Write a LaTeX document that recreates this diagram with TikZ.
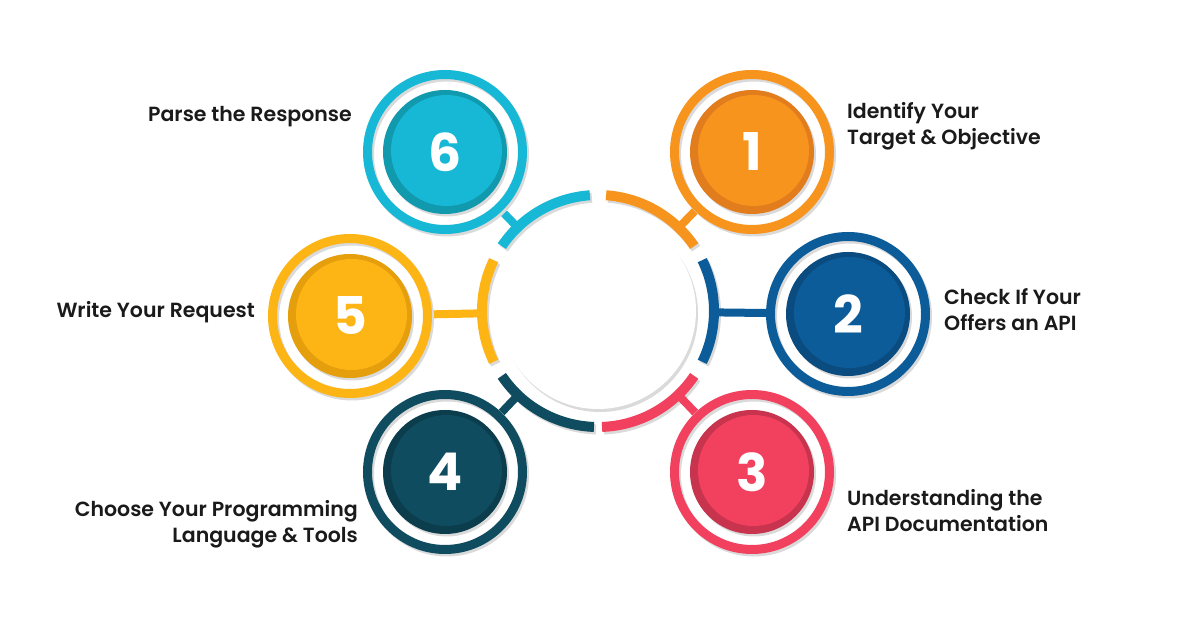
\documentclass[tikz,border=0pt]{standalone}
\usepackage{fontspec}
\setmainfont{Poppins}
\newfontfamily\labfont{Poppins SemiBold}
\newfontfamily\numfont{Poppins Bold}
\usetikzlibrary{calc}
\definecolor{cOne}{HTML}{F7941D}
\definecolor{dOne}{HTML}{E27D1E}
\definecolor{cTwo}{HTML}{0B5C99}
\definecolor{dTwo}{HTML}{0A4C80}
\definecolor{cThree}{HTML}{F2415F}
\definecolor{dThree}{HTML}{C8334E}
\definecolor{cFour}{HTML}{0F4C5F}
\definecolor{dFour}{HTML}{0B3D4D}
\definecolor{cFive}{HTML}{FDB515}
\definecolor{dFive}{HTML}{E59E0C}
\definecolor{cSix}{HTML}{16B8D5}
\definecolor{dSix}{HTML}{1199AE}
\definecolor{shd}{HTML}{DADADA}
\definecolor{txt}{HTML}{1A1A1A}
\tikzset{
  hub/.style={circle, minimum size=164pt, inner sep=0pt},
  arcline/.style={line width=10pt},
  stemline/.style={line width=8pt},
  numtext/.style={text=white, font=\numfont\fontsize{52}{52}\selectfont},
  labtext/.style={text=txt, font=\labfont\fontsize{20.5}{26}\selectfont, inner sep=0pt},
}
\newcommand\stepdisk[3]{% node, ring colour, dark colour
  \draw[line width=9pt, shd] ($(#1.center)+(2,-2.5)$) circle (77.5);
  \fill[shd] ($(#1.center)+(2,-2.5)$) circle (62);
  \draw[line width=9pt, #2] (#1.center) circle (77.5);
  \fill[#3] (#1.center) circle (62);
  \fill[#2] ($(#1.center)+(1.5,1.5)$) circle (55.5);
}
\newcommand\ringarc[3]{% start, end, colour
  \draw[arcline, shd] ($(c)+(2,-2.5)+(#1:116)$) arc[start angle=#1, end angle=#2, radius=116];
  \draw[arcline, #3] ($(c)+(#1:116)$) arc[start angle=#1, end angle=#2, radius=116];
}
\begin{document}
\begin{tikzpicture}[x=1pt,y=1pt]
\useasboundingbox (0,0) rectangle (1200,628);
\fill[white] (0,0) rectangle (1200,628);
\coordinate (c) at (598,317);
% central white disc
\fill[shd] ($(c)+(2,-3)$) circle (98);
\fill[white] (c) circle (98);
% hub nodes
\node[hub] (k1) at (752,476) {};
\node[hub] (k2) at (848,314) {};
\node[hub] (k3) at (752,156) {};
\node[hub] (k4) at (445,156) {};
\node[hub] (k5) at (350,312) {};
\node[hub] (k6) at (445,476) {};
% points on the ring facing each hub
\coordinate (a1) at ($(c)!116pt!(k1.center)$);
\coordinate (a2) at ($(c)!116pt!(k2.center)$);
\coordinate (a3) at ($(c)!116pt!(k3.center)$);
\coordinate (a4) at ($(c)!116pt!(k4.center)$);
\coordinate (a5) at ($(c)!116pt!(k5.center)$);
\coordinate (a6) at ($(c)!116pt!(k6.center)$);
% ring arcs
\ringarc{34}{86}{cOne}
\ringarc{-26}{26}{cTwo}
\ringarc{-88}{-34}{cThree}
\ringarc{-146}{-92}{cFour}
\ringarc{154}{206}{cFive}
\ringarc{94}{146}{cSix}
% stems
\draw[stemline, cOne] (k1) -- (a1);
\draw[stemline, cTwo] (k2) -- (a2);
\draw[stemline, cThree] (k3) -- (a3);
\draw[stemline, cFour] (k4) -- (a4);
\draw[stemline, cFive] (k5) -- (a5);
\draw[stemline, cSix] (k6) -- (a6);
% discs
\stepdisk{k1}{cOne}{dOne}
\stepdisk{k2}{cTwo}{dTwo}
\stepdisk{k3}{cThree}{dThree}
\stepdisk{k4}{cFour}{dFour}
\stepdisk{k5}{cFive}{dFive}
\stepdisk{k6}{cSix}{dSix}
% numbers
\node[numtext] (n1) at (k1.center) {1};
\node[numtext] (n2) at (k2.center) {2};
\node[numtext] (n3) at (k3.center) {3};
\node[numtext] (n4) at (k4.center) {4};
\node[numtext] (n5) at (k5.center) {5};
\node[numtext] (n6) at (k6.center) {6};
% labels
\node[labtext, anchor=west, align=left] (t1) at (847,502) {Identify Your\\Target \& Objective};
\node[labtext, anchor=west, align=left] (t2) at (944,318) {Check If Your\\Offers an API};
\node[labtext, anchor=west, align=left] (t3) at (847,117) {Understanding the\\API Documentation};
\node[labtext, anchor=east, align=right] (t4) at (358,104) {Choose Your Programming\\Language \& Tools};
\node[labtext, anchor=east] (t5) at (255,316) {Write Your Request};
\node[labtext, anchor=east] (t6) at (352,511) {Parse the Response};
\end{tikzpicture}
\end{document}
